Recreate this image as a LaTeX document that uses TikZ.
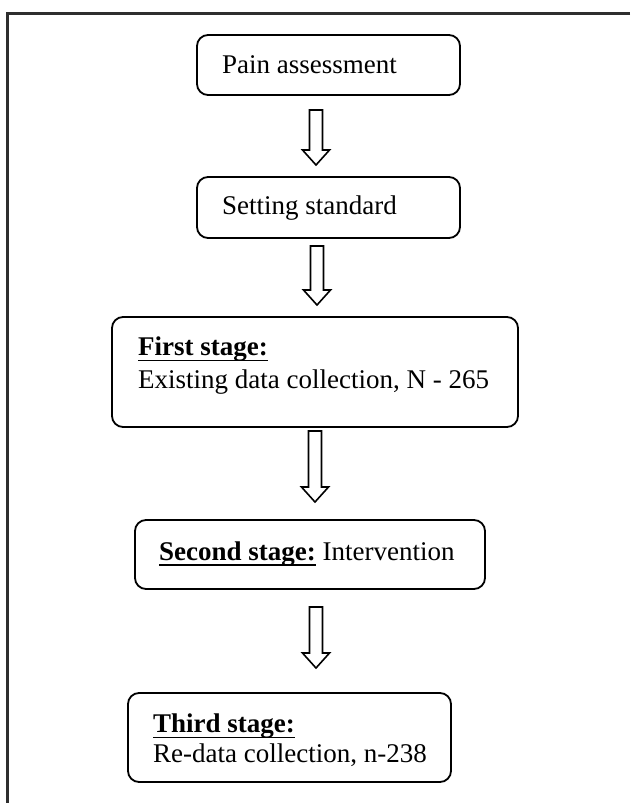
\documentclass[tikz,border=0pt]{standalone}
\usepackage{fontspec}
\setmainfont{Liberation Serif}
\usetikzlibrary{calc}
\newcommand\myul[1]{\setbox0=\hbox{\textbf{#1}}\rlap{\copy0}\rule[-5.8pt]{\wd0}{1.6pt}}
\newcommand\blockarr[2]{\draw[barrow] let \p1=(#1), \p2=(#2) in
  (\x1-6.5pt,\y1) -- (\x1+6.5pt,\y1) -- (\x1+6.5pt,\y2+15pt) -- (\x1+13.5pt,\y2+15pt)
  -- (\x1,\y2) -- (\x1-13.5pt,\y2+15pt) -- (\x1-6.5pt,\y2+15pt) -- cycle;}
\tikzset{
  box/.style={draw=black, line width=1.8pt, rounded corners=11pt, inner sep=0pt},
  txt/.style={inner sep=0pt, align=left, font=\fontsize{27}{33}\selectfont},
  barrow/.style={draw=black, line width=1.6pt, fill=white, line join=miter},
  frame/.style={draw=black!82, line width=3pt}
}
\begin{document}
\begin{tikzpicture}[x=1pt,y=1pt]
\useasboundingbox (0,0) rectangle (630,-803);
\draw[frame] (630,-13.5) -- (7,-13.5) -- (7,-803);

\node[box, minimum width=263, minimum height=60] (pain) at (328.5,-65) {};
\node[txt, anchor=base west] (paint) at (222,-73) {Pain assessment};

\node[box, minimum width=263, minimum height=61] (set) at (328.5,-207.5) {};
\node[txt, anchor=base west] (sett) at (222,-214) {Setting standard};

\node[box, minimum width=406, minimum height=110] (first) at (315,-372) {};
\node[txt, anchor=north west] (firstt) at (138,-336.5) {\myul{First stage:}\\Existing data collection, N - 265};

\node[box, minimum width=350, minimum height=69] (second) at (310,-554.5) {};
\node[txt, anchor=base west] (secondt) at (159,-560) {\myul{Second stage:} Intervention};

\node[box, minimum width=323, minimum height=89] (third) at (289.5,-737.5) {};
\node[txt, anchor=north west, font=\fontsize{27}{30}\selectfont] (thirdt) at (153,-713.5) {\myul{Third stage:}\\Re-data collection, n-238};

\coordinate (a1s) at (316,-110);  \coordinate (a1e) at (316,-165);
\coordinate (a2s) at (317,-246);  \coordinate (a2e) at (317,-305);
\coordinate (a3s) at (315,-431);  \coordinate (a3e) at (315,-502);
\coordinate (a4s) at (316,-607);  \coordinate (a4e) at (316,-668);
\blockarr{a1s}{a1e}
\blockarr{a2s}{a2e}
\blockarr{a3s}{a3e}
\blockarr{a4s}{a4e}
\end{tikzpicture}
\end{document}
